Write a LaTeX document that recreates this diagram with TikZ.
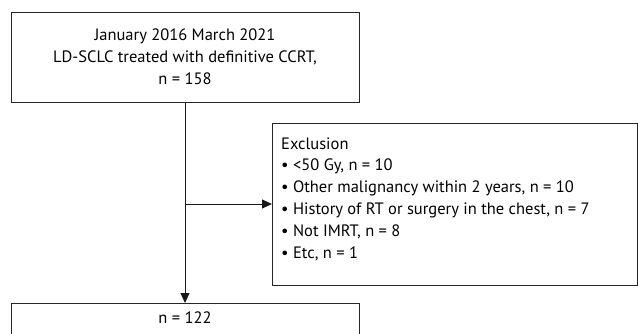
\documentclass[tikz,border=0pt]{standalone}
\usepackage{fontspec}
\setmainfont{PT Sans}
\usetikzlibrary{arrows.meta}
\begin{document}
\begin{tikzpicture}[x=1pt,y=1pt,
  txt/.style={inner sep=0pt,font=\fontsize{16.5}{21.8}\selectfont},
  box/.style={draw=black!85,line width=1pt,inner sep=0pt},
  conn/.style={draw=black!90,line width=1pt},
  tip/.style={-{Triangle[length=10pt,width=9pt]}}]
\useasboundingbox (0,0) rectangle (638,-333);
\node[box,txt,minimum width=348,minimum height=90,align=center] (top) at (185,-57)
  {January 2016 March 2021\\LD-SCLC treated with definitive CCRT,\\n = 158};
\node[box,minimum width=365,minimum height=162,anchor=north west] (excl) at (272,-123) {};
\node[txt,align=left,anchor=west] (exclt) at (281,-199)
  {Exclusion\\
  \textbullet\ <50 Gy, n = 10\\
  \textbullet\ Other malignancy within 2 years, n = 10\\
  \textbullet\ History of RT or surgery in the chest, n = 7\\
  \textbullet\ Not IMRT, n = 8\\
  \textbullet\ Etc, n = 1};
\node[box,minimum width=348,minimum height=40,anchor=north] (bot) at (185,-303) {};
\node[txt] (btxt) at (185,-318) {n = 122};
\coordinate (br) at (185,-204);
\draw[conn,tip] (top.south) -- (bot.north);
\draw[conn,tip] (br) -- (br -| excl.west);
\end{tikzpicture}
\end{document}
